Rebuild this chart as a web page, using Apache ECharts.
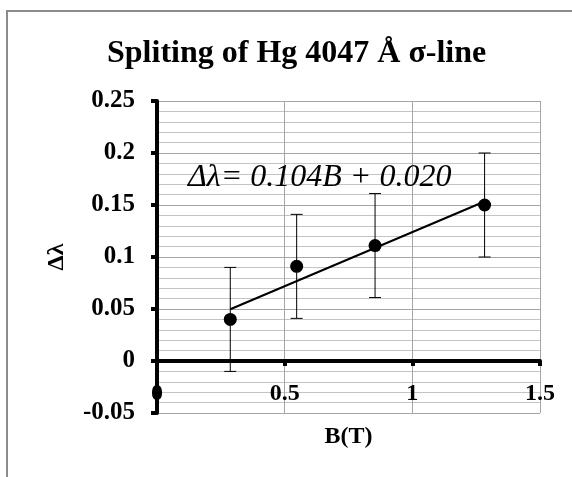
<!DOCTYPE html>
<html>
<head>
<meta charset="utf-8">
<script src="https://cdn.jsdelivr.net/npm/echarts@6/dist/echarts.min.js"></script>
<style>html,body{margin:0;padding:0;background:#fff}#c{width:572px;height:477px}</style>
</head>
<body>
<div id="c"></div>
<script>
// Data
var fieldB = [0.287, 0.547, 0.854, 1.283];
var deltaLambda = [0.040, 0.091, 0.111, 0.150];
var errorSize = [0.05, 0.05, 0.05, 0.05];
var trendX = [0.287, 1.283];
var trendY = [0.0498, 0.1534];
var yTicks = [-0.05, 0, 0.05, 0.1, 0.15, 0.2, 0.25];
var xTicks = [0, 0.5, 1, 1.5];
var titleText = 'Spliting of Hg 4047 Å σ-line';
var equationText = 'Δλ= 0.104B + 0.020';

var FONT = '"Liberation Serif", "Times New Roman", serif';
var chart = echarts.init(document.getElementById('c'), null, {renderer: 'canvas'});

var points = fieldB.map(function (b, i) { return [b, deltaLambda[i]]; });
var errs = fieldB.map(function (b, i) { return [b, deltaLambda[i] - errorSize[i], deltaLambda[i] + errorSize[i]]; });
var trend = trendX.map(function (x, i) { return [x, trendY[i]]; });

chart.setOption({
  animation: false,
  backgroundColor: '#fff',
  title: {
    text: titleText,
    left: 107, top: 38, padding: 0,
    textStyle: {fontFamily: FONT, fontWeight: 'bold', fontSize: 32, color: '#000'}
  },
  graphic: [
    {type: 'rect', shape: {x: 7, y: 11, width: 620, height: 520},
     style: {fill: 'none', stroke: '#8c8c8c', lineWidth: 2}, silent: true, z: 100},
    {type: 'text', left: 188, top: 162, z: 100,
     style: {text: equationText, fontFamily: FONT, fontStyle: 'italic', fontSize: 32, fill: '#000'}}
  ],
  grid: {left: 157, right: 32, top: 101, bottom: 64, containLabel: false, outerBoundsMode: 'none'},
  xAxis: {
    type: 'value', min: xTicks[0], max: xTicks[xTicks.length - 1], interval: 0.5,
    name: 'B(T)', nameLocation: 'middle', nameGap: 12,
    nameTextStyle: {fontFamily: FONT, fontWeight: 'bold', fontSize: 24, color: '#000'},
    axisLine: {onZero: true, lineStyle: {color: '#000', width: 4}},
    axisTick: {show: true, length: 5, lineStyle: {color: '#000', width: 4}},
    axisLabel: {margin: -31, fontFamily: FONT, fontWeight: 'bold', fontSize: 24, color: '#000',
      showMinLabel: true, showMaxLabel: true},
    splitLine: {show: true, lineStyle: {color: '#a6a6a6', width: 1}}
  },
  yAxis: {
    type: 'value', min: yTicks[0], max: yTicks[yTicks.length - 1], interval: 0.05,
    name: 'Δλ', nameLocation: 'middle', nameGap: 88, nameRotate: 90,
    nameTextStyle: {fontFamily: FONT, fontWeight: 'bold', fontSize: 24, color: '#000'},
    axisLine: {show: true, onZero: false, lineStyle: {color: '#000', width: 4}},
    axisTick: {show: true, length: 6, lineStyle: {color: '#000', width: 4}},
    axisLabel: {margin: 22, fontFamily: FONT, fontWeight: 'bold', fontSize: 25, color: '#000',
      formatter: function (v) { return String(+v.toFixed(2)); }},
    splitLine: {show: true, lineStyle: {color: '#a6a6a6', width: 1}},
    minorTick: {show: false, splitNumber: 5},
    minorSplitLine: {show: true, lineStyle: {color: '#c4c4c4', width: 1}}
  },
  series: [
    {
      type: 'custom', z: 3,
      renderItem: function (params, api) {
        var x = api.value(0);
        var lo = api.coord([x, api.value(1)]);
        var hi = api.coord([x, api.value(2)]);
        var hw = 6;
        return {type: 'group', children: [
          {type: 'line', shape: {x1: lo[0], y1: lo[1], x2: hi[0], y2: hi[1]}, style: {stroke: '#000', lineWidth: 1}},
          {type: 'line', shape: {x1: lo[0] - hw, y1: lo[1], x2: lo[0] + hw, y2: lo[1]}, style: {stroke: '#000', lineWidth: 1}},
          {type: 'line', shape: {x1: hi[0] - hw, y1: hi[1], x2: hi[0] + hw, y2: hi[1]}, style: {stroke: '#000', lineWidth: 1}}
        ]};
      },
      encode: {x: 0, y: [1, 2]},
      data: errs
    },
    {
      type: 'line', data: trend, symbol: 'none', z: 4,
      lineStyle: {color: '#000', width: 2}
    },
    {
      type: 'scatter', data: points, symbol: 'circle', symbolSize: 13, z: 5,
      itemStyle: {color: '#000', opacity: 1}
    }
  ]
});
</script>
</body>
</html>
